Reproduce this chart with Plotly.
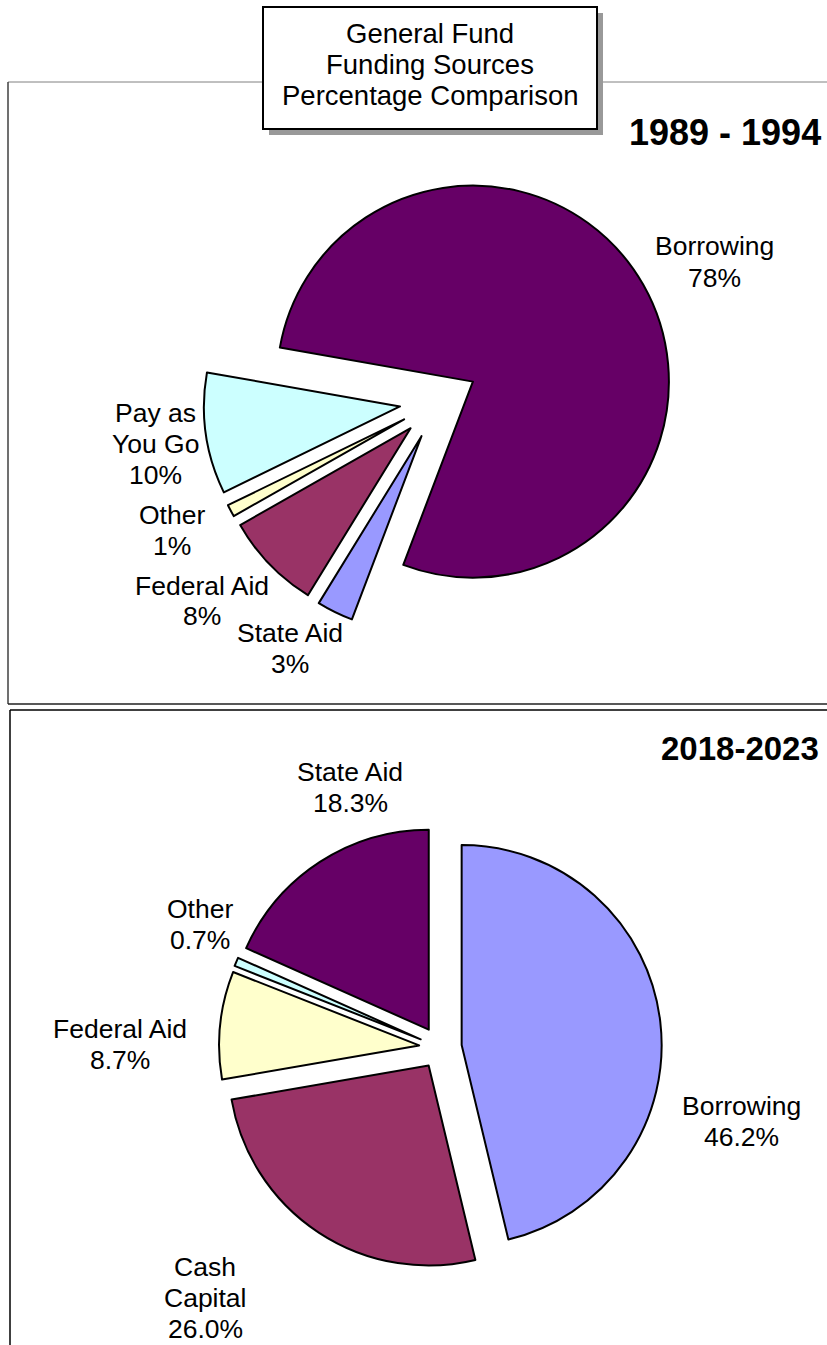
import plotly.graph_objects as go

# ---- data -------------------------------------------------------------
labels_1989 = ["Borrowing", "State Aid", "Federal Aid", "Other", "Pay as You Go"]
label_lines_1989 = [["Borrowing"], ["State Aid"], ["Federal Aid"], ["Other"], ["Pay as", "You Go"]]
values_1989 = [78, 3, 8, 1, 10]
colors_1989 = ["#660066", "#9999FF", "#993366", "#FFFFCC", "#CCFFFF"]

labels_2018 = ["Borrowing", "Cash Capital", "Federal Aid", "Other", "State Aid"]
label_lines_2018 = [["Borrowing"], ["Cash", "Capital"], ["Federal Aid"], ["Other"], ["State Aid"]]
values_2018 = [46.2, 26.0, 8.7, 0.7, 18.3]
colors_2018 = ["#9999FF", "#993366", "#FFFFCC", "#CCFFFF", "#660066"]

header_lines = ["General Fund", "Funding Sources", "Percentage Comparison"]

# ---- layout helpers ---------------------------------------------------
W, H = 827, 1345
FONT = "Liberation Sans, Arial, sans-serif"
LINE_GAP = 31  # pixel distance between stacked text lines


def px(x):
    return x / W


def py(y):
    return 1 - y / H


fig = go.Figure()

fig.add_trace(go.Pie(
    labels=labels_1989, values=values_1989, sort=False,
    direction="clockwise", rotation=-80, pull=0.2,
    marker=dict(colors=colors_1989, line=dict(color="black", width=2)),
    textinfo="none", hoverinfo="label+percent", showlegend=False,
    domain=dict(x=[px(203.6), px(674.0)], y=[py(636.2), py(165.8)]),
))

fig.add_trace(go.Pie(
    labels=labels_2018, values=values_2018, sort=False,
    direction="clockwise", rotation=0, pull=0.107,
    marker=dict(colors=colors_2018, line=dict(color="black", width=2)),
    textinfo="none", hoverinfo="label+percent", showlegend=False,
    domain=dict(x=[px(219.0), px(661.8)], y=[py(1269.0), py(826.2)]),
))

annotations = []


def stacked_text(lines, xc, yc, size):
    """Add a centred block of text lines, one annotation per line."""
    n = len(lines)
    for i, line in enumerate(lines):
        y = yc + (i - (n - 1) / 2) * LINE_GAP
        annotations.append(dict(
            x=px(xc), y=py(y), xref="paper", yref="paper",
            text=line, showarrow=False,
            xanchor="center", yanchor="middle", align="center",
            font=dict(family=FONT, size=size, color="black"),
        ))


# slice labels: block centre in pixels for each slice
pos_1989 = [(714, 262), (290, 648), (202, 601), (172, 530), (155, 444)]
pos_2018 = [(741, 1121), (205, 1298), (120, 1044), (200, 924), (350, 787)]

for names, vals, pos, fmt in [
    (label_lines_1989, values_1989, pos_1989, "{:.0f}%"),
    (label_lines_2018, values_2018, pos_2018, "{:.1f}%"),
]:
    for name_lines, v, (x, y) in zip(names, vals, pos):
        stacked_text(name_lines + [fmt.format(v)], x, y, 26.5)

# header box text
stacked_text(header_lines, 430, 64, 27.5)

# period titles
annotations.append(dict(
    x=px(823), y=py(132), xref="paper", yref="paper", text="<b>1989 - 1994</b>",
    showarrow=False, xanchor="right", yanchor="middle",
    font=dict(family=FONT, size=36, color="black"),
))
annotations.append(dict(
    x=px(821), y=py(748), xref="paper", yref="paper", text="<b>2018-2023</b>",
    showarrow=False, xanchor="right", yanchor="middle",
    font=dict(family=FONT, size=33, color="black"),
))

shapes = [
    # upper panel frame
    dict(type="line", x0=px(8), x1=1.01, y0=py(82), y1=py(82),
         line=dict(color="#808080", width=1)),
    dict(type="line", x0=px(8), x1=px(8), y0=py(82), y1=py(704),
         line=dict(color="#404040", width=1.5)),
    dict(type="line", x0=px(8), x1=1.01, y0=py(704), y1=py(704),
         line=dict(color="#202020", width=1.5)),
    # lower panel frame
    dict(type="line", x0=px(10), x1=1.01, y0=py(710), y1=py(710),
         line=dict(color="black", width=1.5)),
    dict(type="line", x0=px(10), x1=px(10), y0=py(710), y1=-0.01,
         line=dict(color="black", width=1.5)),
    # header box shadow and box
    dict(type="rect", x0=px(269), x1=px(603), y0=py(135), y1=py(13),
         fillcolor="#999999", line=dict(width=0)),
    dict(type="rect", x0=px(263), x1=px(597), y0=py(129), y1=py(7),
         fillcolor="white", line=dict(color="black", width=2)),
]

fig.update_layout(
    width=W, height=H,
    margin=dict(l=0, r=0, t=0, b=0),
    paper_bgcolor="white", plot_bgcolor="white",
    annotations=annotations, shapes=shapes,
    showlegend=False,
)

fig.write_html("out.html")
